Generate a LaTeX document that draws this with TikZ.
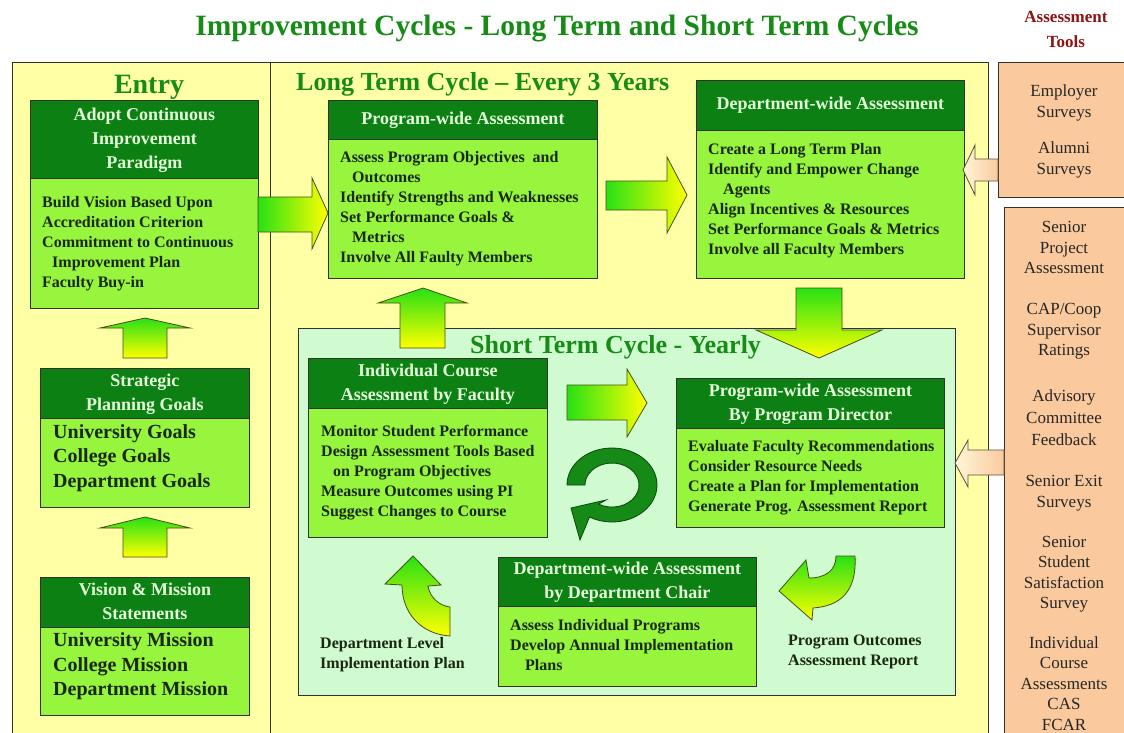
\documentclass[tikz,border=0pt]{standalone}
\usepackage{fontspec}
\setmainfont{Liberation Serif}
\definecolor{bgyellow}{RGB}{255,255,165}
\definecolor{mint}{RGB}{208,250,208}
\definecolor{hdrgreen}{RGB}{12,128,18}
\definecolor{bodygreen}{RGB}{150,245,60}
\definecolor{hdrtext}{RGB}{228,255,218}
\definecolor{bodytext}{RGB}{25,40,15}
\definecolor{titlegreen}{RGB}{22,140,22}
\definecolor{toolred}{RGB}{140,20,20}
\definecolor{peach}{RGB}{250,202,158}
\definecolor{pale}{RGB}{255,246,215}
\definecolor{edge}{RGB}{50,50,45}
\definecolor{pedge}{RGB}{90,80,60}
\definecolor{agreen}{RGB}{40,225,20}
\definecolor{ayellow}{RGB}{255,255,0}
\definecolor{aedge}{RGB}{70,80,20}
\definecolor{ringgreen}{RGB}{22,138,22}
\definecolor{ringedge}{RGB}{10,70,10}
\tikzset{
 hdr/.style={draw=edge, line width=0.9pt, fill=hdrgreen, text=hdrtext, font=\bfseries\fontsize{18}{24}\selectfont, align=center, inner sep=0pt, anchor=north west},
 bdy/.style={draw=edge, line width=0.9pt, fill=bodygreen, inner sep=0pt, anchor=north west},
 btxt/.style={anchor=west, align=left, inner sep=0pt, text=bodytext, font=\bfseries\fontsize{16}{20}\selectfont},
 bigtxt/.style={btxt, font=\bfseries\fontsize{20}{24.5}\selectfont},
 tooltxt/.style={align=center, inner sep=0pt, text=black!85, font=\fontsize{17}{20.5}\selectfont},
 garrow/.style={draw=aedge, line width=0.8pt},
 uparrow/.style={garrow, top color=agreen, bottom color=ayellow},
 rtarrow/.style={garrow, left color=agreen, right color=ayellow},
 ltarrow/.style={draw=pedge, line width=0.8pt, left color=pale, right color=peach},
 region/.style={draw=edge, line width=1pt, inner sep=0pt, anchor=north west},
 heading/.style={text=titlegreen, font=\bfseries\fontsize{26}{28}\selectfont, inner sep=0pt},
 ringstyle/.style={draw=ringedge, line width=0.8pt, fill=ringgreen}
}
\begin{document}
\begin{tikzpicture}[x=1pt,y=-1pt]
\useasboundingbox (0,0) rectangle (1124,732);
\fill[white] (0,0) rectangle (1124,732);
\clip (0,0) rectangle (1124,732);
% ---------- regions
\node[region, fill=bgyellow, minimum width=976pt, minimum height=690pt] (main) at (12,62) {};
\coordinate (divtop) at (270,62);
\coordinate (divbot) at (270,752);
\draw[edge, line width=1pt] (divtop) -- (divbot);
\node[region, fill=peach, minimum width=140pt, minimum height=135pt] (tools1) at (998,62) {};
\node[region, fill=peach, minimum width=140pt, minimum height=540pt] (tools2) at (1004,207) {};
\node[region, fill=mint, minimum width=657pt, minimum height=367pt] (stc) at (298,328) {};
% ---------- titles
\node[text=titlegreen, font=\bfseries\fontsize{29.5}{32}\selectfont, inner sep=0pt, anchor=base] (title) at (557,35) {Improvement Cycles - Long Term and Short Term Cycles};
\node[text=toolred, font=\bfseries\fontsize{17}{25}\selectfont, align=center, inner sep=0pt] (tooltitle) at (1066,30) {\strut Assessment\\Tools\strut};
\node[heading, font=\bfseries\fontsize{28}{30}\selectfont, anchor=base] (entry) at (149,93) {Entry};
\node[heading, anchor=base west] (ltc) at (296,90) {Long Term Cycle -- Every 3 Years};
\node[heading, anchor=base west] (stctitle) at (470,353) {Short Term Cycle - Yearly};
% ---------- left column boxes
\node[bdy, minimum width=228pt, minimum height=130pt] (b1b) at (30,178) {};
\node[hdr, minimum width=228pt, minimum height=78pt] (b1h) at (30,100) {\strut Adopt Continuous\\Improvement\\Paradigm\strut};
\node[btxt] (b1t) at ([xshift=12pt]b1b.west) {\strut Build Vision Based Upon\\Accreditation Criterion\\Commitment to Continuous\\\hspace*{10pt}Improvement Plan\\Faculty Buy-in\strut};

\node[bdy, minimum width=209pt, minimum height=89pt] (b2b) at (40,418) {};
\node[hdr, minimum width=209pt, minimum height=50pt] (b2h) at (40,368) {\strut Strategic\\Planning Goals\strut};
\node[bigtxt] (b2t) at ([xshift=13pt,yshift=5pt]b2b.west) {\strut University Goals\\College Goals\\Department Goals\strut};

\node[bdy, minimum width=209pt, minimum height=88pt] (b3b) at (40,627) {};
\node[hdr, minimum width=209pt, minimum height=50pt] (b3h) at (40,577) {\strut Vision \& Mission\\Statements\strut};
\node[bigtxt] (b3t) at ([xshift=13pt,yshift=5pt]b3b.west) {\strut University Mission\\College Mission\\Department Mission\strut};

% ---------- long term boxes
\node[bdy, minimum width=269pt, minimum height=139pt] (b4b) at (328,139) {};
\node[hdr, minimum width=269pt, minimum height=39pt] (b4h) at (328,100) {Program-wide Assessment};
\node[btxt] (b4t) at ([xshift=12pt]b4b.west) {\strut Assess Program Objectives \ and\\\hspace*{12pt}Outcomes\\Identify Strengths and Weaknesses\\Set Performance Goals \&\\\hspace*{12pt}Metrics\\Involve All Faulty Members\strut};

\node[bdy, minimum width=268pt, minimum height=148pt] (b5b) at (696,130) {};
\node[hdr, minimum width=268pt, minimum height=50pt] (b5h) at (696,80) {Department-wide Assessment};
\node[btxt] (b5t) at ([xshift=12pt,yshift=4pt]b5b.west) {\strut Create a Long Term Plan\\Identify and Empower Change\\\hspace*{15pt}Agents\\Align Incentives \& Resources\\Set Performance Goals \& Metrics\\Involve all Faculty Members\strut};

% ---------- short term boxes
\node[bdy, minimum width=239pt, minimum height=129pt] (b6b) at (308,408) {};
\node[hdr, minimum width=239pt, minimum height=50pt] (b6h) at (308,358) {\strut Individual Course\\Assessment by Faculty\strut};
\node[btxt] (b6t) at ([xshift=13pt]b6b.west) {\strut Monitor Student Performance\\Design Assessment Tools Based\\\hspace*{12pt}on Program Objectives\\Measure Outcomes using PI\\Suggest Changes to Course\strut};

\node[bdy, minimum width=268pt, minimum height=99pt] (b7b) at (676,428) {};
\node[hdr, minimum width=268pt, minimum height=50pt] (b7h) at (676,378) {\strut Program-wide Assessment\\By Program Director\strut};
\node[btxt] (b7t) at ([xshift=12pt]b7b.west) {\strut Evaluate Faculty Recommendations\\Consider Resource Needs\\Create a Plan for Implementation\\Generate Prog. Assessment Report\strut};

\node[bdy, minimum width=258pt, minimum height=80pt] (b8b) at (498,606) {};
\node[hdr, minimum width=258pt, minimum height=49pt] (b8h) at (498,557) {\strut Department-wide Assessment\\by Department Chair\strut};
\node[btxt] (b8t) at ([xshift=12pt]b8b.west) {\strut Assess Individual Programs\\Develop Annual Implementation\\\hspace*{15pt}Plans\strut};

\node[btxt] (lbl1) at (320,654) {\strut Department Level\\Implementation Plan\strut};
\node[btxt] (lbl2) at (788,651) {\strut Program Outcomes\\Assessment Report\strut};

% ---------- assessment tools text
\node[tooltxt] (t1) at (1064,103) {\strut Employer\\Surveys\strut};
\node[tooltxt] (t2) at (1064,160) {\strut Alumni\\Surveys\strut};
\node[tooltxt] (t3) at (1064,249) {\strut Senior\\Project\\Assessment\strut};
\node[tooltxt] (t4) at (1064,331) {\strut CAP/Coop\\Supervisor\\Ratings\strut};
\node[tooltxt, font=\fontsize{17}{22}\selectfont] (t5) at (1064,419) {\strut Advisory\\Committee\\Feedback\strut};
\node[tooltxt] (t6) at (1064,493) {\strut Senior Exit\\Surveys\strut};
\node[tooltxt] (t7) at (1064,574) {\strut Senior\\Student\\Satisfaction\\Survey\strut};
\node[tooltxt] (t8) at (1064,685) {\strut Individual\\Course\\Assessments\\CAS\\FCAR\strut};

% ---------- block arrows
\draw[uparrow] (123,358) -- (123,328) -- (100,328) -- (145,318) -- (190,328) -- (167,328) -- (167,358) -- cycle;
\draw[uparrow] (123,557) -- (123,528) -- (100,528) -- (145,517) -- (190,528) -- (167,528) -- (167,557) -- cycle;
\draw[rtarrow] (258,197) -- (312,197) -- (312,178) -- (328,213) -- (312,249) -- (312,232) -- (258,232) -- cycle;
\draw[rtarrow] (606,181) -- (667,181) -- (667,157) -- (687,195) -- (667,233) -- (667,210) -- (606,210) -- cycle;
\draw[uparrow] (796,288) -- (842,288) -- (842,330) -- (882,330) -- (819,358) -- (756,330) -- (796,330) -- cycle;
\draw[uparrow] (400,348) -- (400,303) -- (378,303) -- (423,288) -- (467,303) -- (445,303) -- (445,348) -- cycle;
\draw[rtarrow] (567,385) -- (627,385) -- (627,369) -- (647,403) -- (627,437) -- (627,420) -- (567,420) -- cycle;
\draw[ltarrow] (998,159) -- (975,159) -- (975,145) -- (963,170) -- (975,195) -- (975,181) -- (998,181) -- cycle;
\draw[ltarrow] (1004,450) -- (968,450) -- (968,440) -- (955,463) -- (968,487) -- (968,475) -- (1004,475) -- cycle;

% ---------- curved arrows
\draw[uparrow] (413,556) -- (441,585) -- (428,586) .. controls (430,598) and (440,606) .. (450,607) -- (450,636) .. controls (420,634) and (402,612) .. (402,585) -- (385,584) -- cycle;
\draw[uparrow] (836,556) -- (855,556) .. controls (857,592) and (840,606) .. (813,608) -- (812,620) -- (779,591) -- (806,560) -- (809,578) .. controls (826,578) and (836,570) .. (836,556) -- cycle;

% ---------- circular arrow
\draw[ringstyle] (567,485) arc[start angle=180, end angle=480, x radius=45, y radius=37] -- (580,540) -- (571,508) -- (606,500) -- (598.5,504.1) arc[start angle=480, end angle=180, x radius=27, y radius=22] -- cycle;
\end{tikzpicture}
\end{document}
